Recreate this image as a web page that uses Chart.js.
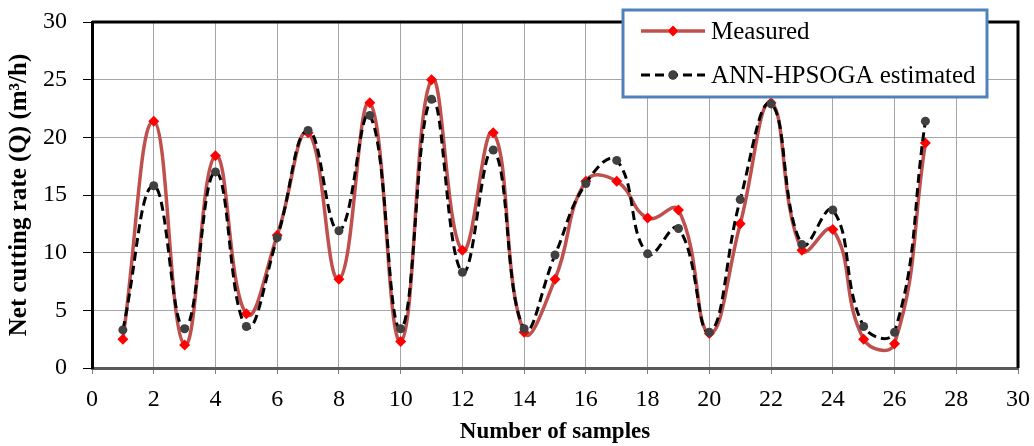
<!DOCTYPE html>
<html>
<head>
<meta charset="utf-8">
<script src="https://cdn.jsdelivr.net/npm/chart.js@4/dist/chart.umd.min.js"></script>
<style>
  html, body { margin: 0; padding: 0; background: #fff; }
  #wrap { width: 1034px; height: 446px; }
</style>
</head>
<body>
<div id="wrap"><canvas id="cuttingChart"></canvas></div>
<script>
// sample numbers and net cutting rate Q (m3/h)
const samples = [1, 2, 3, 4, 5, 6, 7, 8, 9, 10, 11, 12, 13, 14, 15, 16, 17, 18, 19, 20, 21, 22, 23, 24, 25, 26, 27];
const measured = [2.5, 21.4, 2.0, 18.4, 4.7, 11.5, 20.4, 7.7, 23.0, 2.3, 25.0, 10.2, 20.4, 3.1, 7.7, 16.2, 16.2, 13.0, 13.7, 3.0, 12.5, 23.0, 10.2, 12.0, 2.5, 2.1, 19.5];
const estimated = [3.3, 15.8, 3.4, 17.0, 3.6, 11.3, 20.6, 11.9, 21.9, 3.4, 23.3, 8.3, 18.9, 3.4, 9.8, 16.0, 18.0, 9.9, 12.1, 3.1, 14.6, 22.9, 10.7, 13.7, 3.6, 3.1, 21.4];
const yTicks = [0, 5, 10, 15, 20, 25, 30];
const xTicks = [0, 2, 4, 6, 8, 10, 12, 14, 16, 18, 20, 22, 24, 26, 28, 30];

const serif = "'Liberation Serif', 'Times New Roman', serif";

const toPoints = (vals) => vals.map((v, i) => ({ x: samples[i], y: v }));

// keep the plot box fixed regardless of label sizes
const fixPadding = (scale) => {
    scale.paddingTop = 0;
    scale.paddingBottom = 0;
    scale.paddingLeft = 0;
    scale.paddingRight = 0;
};

// black frame on the top and right of the plot area
const framePlugin = {
    id: "frame",
    beforeDatasetsDraw(chart) {
        const { ctx, chartArea: a } = chart;
        ctx.save();
        ctx.strokeStyle = "#000";
        ctx.lineWidth = 3;
        ctx.beginPath();
        ctx.moveTo(a.left, a.top);
        ctx.lineTo(a.right, a.top);
        ctx.lineTo(a.right, a.bottom);
        ctx.stroke();
        ctx.restore();
    }
};

// boxed legend in the upper right corner
const boxLegend = {
    id: "boxLegend",
    afterDraw(chart) {
        const ctx = chart.ctx;
        const box = { x: 623, y: 10, w: 364, h: 87 };
        ctx.save();
        ctx.fillStyle = "#fff";
        ctx.fillRect(box.x, box.y, box.w, box.h);
        ctx.strokeStyle = "#4F81BD";
        ctx.lineWidth = 3;
        ctx.strokeRect(box.x, box.y, box.w, box.h);

        const rows = [31, 75];
        chart.data.datasets.forEach((ds, i) => {
            const y = rows[i];
            ctx.strokeStyle = ds.borderColor;
            ctx.lineWidth = ds.borderWidth;
            ctx.setLineDash(ds.borderDash || []);
            ctx.beginPath();
            ctx.moveTo(641, y);
            ctx.lineTo(705, y);
            ctx.stroke();
            ctx.setLineDash([]);
            Chart.helpers.drawPoint(ctx, {
                pointStyle: ds.pointStyle,
                radius: ds.pointRadius,
                rotation: 0,
                borderWidth: 0
            }, 673, y);
            ctx.fillStyle = ds.pointBackgroundColor;
            ctx.fill();

            ctx.fillStyle = "#000";
            ctx.font = "25px " + serif;
            ctx.textBaseline = "middle";
            ctx.fillText(ds.label, 711, y + 1);
        });
        ctx.restore();
    }
};

new Chart(document.getElementById("cuttingChart"), {
    type: "line",
    data: {
        datasets: [
            {
                label: "Measured",
                data: toPoints(measured),
                borderColor: "#C0504D",
                borderWidth: 3.5,
                pointStyle: "rectRot",
                pointRadius: 5.5,
                pointBackgroundColor: "#FF0000",
                pointBorderWidth: 0,
                tension: 0.45,
                order: 1
            },
            {
                label: "ANN-HPSOGA estimated",
                data: toPoints(estimated),
                borderColor: "#000",
                borderWidth: 3,
                borderDash: [9, 5],
                pointStyle: "circle",
                pointRadius: 4.5,
                pointBackgroundColor: "#404040",
                pointBorderWidth: 0,
                tension: 0.45,
                order: 0
            }
        ]
    },
    options: {
        responsive: true,
        maintainAspectRatio: false,
        animation: false,
        layout: { padding: { top: 22, right: 16, left: 0, bottom: 0 } },
        plugins: {
            legend: { display: false },
            tooltip: { enabled: false }
        },
        scales: {
            x: {
                type: "linear",
                min: 0,
                max: 30,
                afterBuildTicks: (scale) => { scale.ticks = xTicks.map(v => ({ value: v })); },
                afterFit: (scale) => { scale.height = 78; fixPadding(scale); },
                grid: { color: "#A6A6A6", lineWidth: 1, tickColor: "#808080", tickLength: 6 },
                border: { color: "#595959", width: 3 },
                ticks: { color: "#000", font: { family: serif, size: 24 }, padding: 11, maxRotation: 0 },
                title: {
                    display: true,
                    text: "Number of samples",
                    color: "#000",
                    font: { family: serif, size: 23, weight: "bold" },
                    padding: { top: 0, bottom: 0 }
                }
            },
            y: {
                min: 0,
                max: 30,
                afterBuildTicks: (scale) => { scale.ticks = yTicks.map(v => ({ value: v })); },
                afterFit: (scale) => { scale.width = 92; fixPadding(scale); },
                grid: { color: "#A6A6A6", lineWidth: 1, tickColor: "#000", tickLength: 9 },
                border: { color: "#000", width: 3 },
                ticks: { color: "#000", font: { family: serif, size: 24 }, padding: 16 },
                title: {
                    display: true,
                    text: "Net cutting rate (Q) (m³/h)",
                    color: "#000",
                    font: { family: serif, size: 25, weight: "bold" },
                    padding: { top: 5, bottom: 0 }
                }
            }
        }
    },
    plugins: [framePlugin, boxLegend]
});
</script>
</body>
</html>
